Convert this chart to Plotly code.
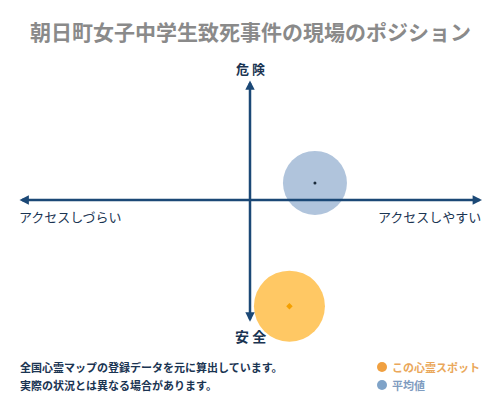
import plotly.graph_objects as go

title = "朝日町女子中学生致死事件の現場のポジション"
axis_labels = {"top": "危 険", "bottom": "安 全", "left": "アクセスしづらい", "right": "アクセスしやすい"}
series_names = ["この心霊スポット", "平均値"]
spot_x = [17]
spot_y = [-87]
avg_x = [28]
avg_y = [14]
notes = ["全国心霊マップの登録データを元に算出しています。", "実際の状況とは異なる場合があります。"]

W, H = 500, 400
# data units: axis extends from -100 to 100
XR = 250 / 232 * 100
YR = 200 / 122 * 100
NAVY = "#1b4876"
TXT = "#1a3452"
FONT = "Noto Sans CJK JP"

fig = go.Figure()
fig.add_trace(go.Scatter(x=avg_x, y=avg_y, mode="markers",
                         marker=dict(size=64, color="#b0c4dc", line=dict(width=0)),
                         hoverinfo="skip", showlegend=False))
fig.add_trace(go.Scatter(x=avg_x, y=avg_y, mode="markers",
                         marker=dict(size=3, color="#1a2a3a"), hoverinfo="skip", showlegend=False))
fig.add_trace(go.Scatter(x=spot_x, y=spot_y, mode="markers",
                         marker=dict(size=71, color="#ffc864", line=dict(width=0)),
                         hoverinfo="skip", showlegend=False))
fig.add_trace(go.Scatter(x=spot_x, y=spot_y, mode="markers",
                         marker=dict(size=5, color="#f5a000", symbol="diamond"), hoverinfo="skip", showlegend=False))

ann = []
# axis arrows
ann.append(dict(x=100, y=0, ax=-100, ay=0, xref="x", yref="y", axref="x", ayref="y",
                text="", showarrow=True, arrowside="end+start", arrowhead=2, arrowsize=0.75,
                arrowwidth=2.5, arrowcolor=NAVY))
ann.append(dict(x=0, y=98, ax=0, ay=-101, xref="x", yref="y", axref="x", ayref="y",
                text="", showarrow=True, arrowside="end+start", arrowhead=2, arrowsize=0.75,
                arrowwidth=2.5, arrowcolor=NAVY))

def txt(x, y, s, size, color, xanchor="center", bold=True):
    ann.append(dict(x=x, y=y, xref="paper", yref="paper", text=f"<b>{s}</b>" if bold else s,
                    showarrow=False, xanchor=xanchor, yanchor="middle",
                    font=dict(family=FONT, size=size, color=color)))

txt(0.5, 1 - 31 / H, title, 21, "#8a8a8a")
txt(0.5, 1 - 68 / H, axis_labels["top"], 13, TXT)
txt(0.5, 1 - 336 / H, axis_labels["bottom"], 14, TXT)
txt(17 / W, 1 - 216 / H, axis_labels["left"], 13, TXT, "left", False)
txt(483 / W, 1 - 216 / H, axis_labels["right"], 13, TXT, "right", False)
txt(18 / W, 1 - 367 / H, notes[0], 11, TXT, "left")
txt(18 / W, 1 - 385 / H, notes[1], 11, TXT, "left")
txt(390 / W, 1 - 367 / H, series_names[0], 11, "#eaa75a", "left")
txt(390 / W, 1 - 385 / H, series_names[1], 11, "#7f9cc0", "left")

fig.add_shape(type="circle", xref="paper", yref="paper",
              x0=377 / W, x1=387 / W, y0=1 - 372 / H, y1=1 - 362 / H,
              fillcolor="#f0a040", line=dict(width=0))
fig.add_shape(type="circle", xref="paper", yref="paper",
              x0=377 / W, x1=387 / W, y0=1 - 390 / H, y1=1 - 380 / H,
              fillcolor="#7fa3c8", line=dict(width=0))

fig.update_layout(
    width=W, height=H, margin=dict(l=0, r=0, t=0, b=0),
    paper_bgcolor="white", plot_bgcolor="white",
    xaxis=dict(range=[-XR, XR], visible=False, fixedrange=True),
    yaxis=dict(range=[-YR, YR], visible=False, fixedrange=True),
    annotations=ann, showlegend=False,
)
fig.write_html("out.html", config={"displayModeBar": False},
               post_script="document.body.style.margin='0';document.body.style.overflow='hidden';")
